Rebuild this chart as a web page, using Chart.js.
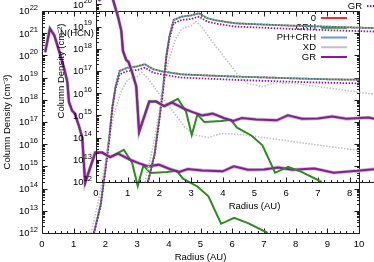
<!DOCTYPE html>
<html>
<head>
<meta charset="utf-8">
<script src="https://cdn.jsdelivr.net/npm/chart.js"></script>
<style>
  html, body { margin: 0; padding: 0; background: #fff; }
  #wrap { position: relative; width: 374px; height: 262px; overflow: hidden; }
  canvas { position: absolute; }
  #main { left: 0; top: 0; }
  #inset { left: 54px; top: -51px; }
</style>
</head>
<body>
<div id="wrap">
  <canvas id="main" width="374" height="262"></canvas>
  <canvas id="inset" width="374" height="262"></canvas>
</div>
<script>
  // radius (AU) and column densities
  const rSolid = [0.1, 0.25, 0.39, 0.55, 0.7, 0.8, 0.85, 0.95, 1.03, 1.16, 1.27, 1.36, 1.68, 1.9, 2.15, 2.4, 2.78, 3.05, 3.35, 3.68,
                  4.03, 4.33, 4.6, 5.05, 5.7, 6.05, 6.5, 7.0, 7.45, 7.9, 8.6, 9.2, 9.95, 10.5];
  const nGR = [1.4e20, 1.6e21, 8e20, 1.4e20, 2.6e19, 6.3e18, 8e17, 3.2e17, 2.5e17, 7e16, 2e16, 1.8e14, 4.2e15, 4.2e15, 2.6e15, 3.8e15, 2e15, 1.4e15, 1e15, 1.2e15,
               7.6e14, 5.6e14, 7.6e14, 6.6e14, 6e14, 1e15, 7e14, 7.2e14, 9e14, 7e14, 8e14, 5.2e14, 6.3e14, 7.6e14];

  const rCRH = [0.1, 0.25, 0.39, 0.55, 0.7, 0.8, 0.85, 0.95, 1.03, 1.16, 1.27, 1.36, 1.68, 1.9, 2.15, 2.58, 2.84, 3.02, 3.2, 3.42,
                3.95, 4.25, 4.45, 4.9, 5.25, 5.65, 6.06, 6.5, 7.12];
  const nCRH = [1.4e20, 1.6e21, 8e20, 1.4e20, 2.6e19, 6.3e18, 8e17, 3.2e17, 2.5e17, 7e16, 2e16, 1.8e14, 4.2e15, 4.2e15, 2.6e15, 5.6e15, 1.5e15, 1.3e14, 1.1e15, 5e14,
                5.6e14, 6.3e14, 2.8e14, 1.25e14, 4.5e13, 2.6e12, 4.8e12, 2.8e12, 1e12];

  const rDot = [1.64, 1.85, 2.0, 2.12, 2.22, 2.32, 2.45, 2.7, 3.0, 3.25, 3.5, 3.8, 4.4, 5.2, 6.2, 7.2, 8.2, 9.2, 10.0, 10.5];
  const nDotPH = [1e12, 2e13, 8e14, 2e16, 5e17, 4e18, 2e19, 2.8e19, 3.2e19, 4e19, 2.4e19, 1.9e19, 1.4e19, 1.25e19, 1.1e19, 1e19, 9e18, 8.3e18, 8e18, 7e18];
  const nDotGR = [1e12, 1.6e13, 6e14, 1.4e16, 4e17, 3e18, 1.4e19, 2e19, 2.2e19, 2.8e19, 1.7e19, 1.35e19, 1e19, 9e18, 7.8e18, 7e18, 6.3e18, 5.8e18, 5.5e18, 5e18];

  const rDotXD = [1.55, 1.8, 2.0, 2.15, 2.3, 2.5, 2.7, 3.0, 3.15, 3.35, 3.6, 3.95, 4.25, 4.5, 4.8, 5.25, 5.65, 6.2, 7.5, 8.75, 10.0, 10.5];
  const nDotXD = [1e12, 4e13, 1.6e15, 3.2e16, 3.2e17, 2.5e18, 8e18, 1.1e19, 1.7e19, 9e18, 2.8e18, 6.3e17, 1.8e17, 6e16, 2.6e16, 2e16, 3e16, 2.8e16, 1.6e16, 9e15, 5.2e15, 4.2e15];

  const xTicks = [0, 1, 2, 3, 4, 5, 6, 7, 8, 9, 10];
  const yTicks = [1e12, 1e13, 1e14, 1e15, 1e16, 1e17, 1e18, 1e19, 1e20, 1e21, 1e22];
  const keyLabels = ['0', 'CRH', 'PH+CRH', 'XD', 'GR'];

  const red = '#ee3030', green = '#2f8a23', blue = '#6a97e6', gray = '#c2c2c2', purple = '#8b1a9b';
  const keyColors = [red, green, blue, gray, purple];
  const FONT = 'Liberation Sans, Arial, sans-serif';

  const pts = (xs, ys) => xs.map((x, i) => ({ x: x, y: ys[i] }));
  const clip = { left: 0, top: 0, right: false, bottom: 0 };

  function line(label, xs, ys, color, width, order, dash, dashOff) {
    return {
      label: label, data: pts(xs, ys), borderColor: color, borderWidth: width,
      pointRadius: 0, fill: false, tension: 0, order: order, clip: clip,
      borderDash: dash || [], borderDashOffset: dashOff || 0
    };
  }

  function makeSets() {
    const d = [1.5, 1.5];
    return [
      line('GR', rSolid, nGR, purple, 2, 0),
      line('CRH', rCRH, nCRH, green, 2, 1),
      line('XD', rSolid, nGR, gray, 3.6, 2),
      line('PH+CRH', rSolid, nGR, blue, 2, 3),
      line('0', rSolid, nGR, red, 2, 4),
      line('GR', rDot, nDotGR, purple, 1.8, 5, d, 0),
      line('XD', rDotXD, nDotXD, gray, 1.6, 6, d, 0),
      line('PH+CRH', rDot, nDotPH, blue, 1.8, 7, d, 0),
      line('CRH', rDot, nDotPH, green, 1.8, 8, d, 1.5),
      line('0', rDot, nDotPH, red, 1.8, 9, d, 0.7)
    ];
  }

  // gnuplot-like border with inward, mirrored tics
  const frame = {
    id: 'frame',
    beforeDatasetsDraw(chart) {
      const { ctx, chartArea: a, scales } = chart;
      const x = scales.x, y = scales.y;
      const L = Math.round(a.left) + 0.5, R = Math.round(a.right) + 0.5;
      const T = Math.round(a.top) + 0.5, B = Math.round(a.bottom) + 0.5;
      ctx.save();
      ctx.strokeStyle = '#1e1e1e';
      ctx.lineWidth = 1;
      ctx.beginPath();
      ctx.rect(L, T, R - L, B - T);
      for (let i = 0; i <= 50; i++) {
        const px = Math.round(x.getPixelForValue(i / 5)) + 0.5;
        const len = i % 5 === 0 ? 5 : 2.5;
        ctx.moveTo(px, B); ctx.lineTo(px, B - len);
        ctx.moveTo(px, T); ctx.lineTo(px, T + len);
      }
      for (let e = 12; e <= 22; e++) {
        for (let k = 1; k < 10; k++) {
          if (e === 22 && k > 1) break;
          const py = Math.round(y.getPixelForValue(k * Math.pow(10, e))) + 0.5;
          const len = k === 1 ? 5 : 2.5;
          ctx.moveTo(L, py); ctx.lineTo(L + len, py);
          ctx.moveTo(R, py); ctx.lineTo(R - len, py);
        }
      }
      ctx.stroke();
      ctx.restore();
    }
  };

  // y tick labels as 10 with a raised exponent
  const powLabels = {
    id: 'powLabels',
    afterDraw(chart) {
      const { ctx } = chart;
      const y = chart.scales.y;
      ctx.save();
      ctx.fillStyle = '#000';
      ctx.textBaseline = 'alphabetic';
      ctx.textAlign = 'left';
      y.ticks.forEach(t => {
        const py = y.getPixelForValue(t.value);
        const e = String(Math.round(Math.log10(t.value)));
        ctx.font = '7.5px ' + FONT;
        const we = ctx.measureText(e).width;
        ctx.font = '9.5px ' + FONT;
        const wb = ctx.measureText('10').width;
        const xr = y.right - 4;
        ctx.fillText('10', xr - we - wb, py + 3.4);
        ctx.font = '7.5px ' + FONT;
        ctx.fillText(e, xr - we, py - 1.2);
      });
      ctx.restore();
    }
  };

  function keyPlugin(dash, shift) {
    return {
      id: 'key',
      afterDatasetsDraw(chart) {
        const { ctx, chartArea: a } = chart;
        ctx.save();
        ctx.font = '9.5px ' + FONT;
        ctx.textAlign = 'right';
        ctx.textBaseline = 'middle';
        keyLabels.forEach((lab, i) => {
          const yy = a.top + 7 + i * 9.75;
          ctx.fillStyle = '#000';
          ctx.fillText(lab, a.right - 43 + shift, yy);
          ctx.strokeStyle = keyColors[i];
          ctx.lineWidth = 2;
          ctx.setLineDash(dash);
          ctx.beginPath();
          ctx.moveTo(a.right - 38 + shift, yy);
          ctx.lineTo(a.right - 12 + shift, yy);
          ctx.stroke();
        });
        ctx.restore();
      }
    };
  }

  const hcnLabel = {
    id: 'hcnLabel',
    afterDraw(chart) {
      const { ctx, chartArea: a } = chart;
      ctx.save();
      ctx.font = '9.5px ' + FONT;
      ctx.fillStyle = '#000';
      ctx.textAlign = 'center';
      ctx.textBaseline = 'middle';
      ctx.fillText('N(HCN)', a.left - 19, a.top + 73);
      ctx.restore();
    }
  };

  function config(yTitle, plugins) {
    return {
      type: 'line',
      data: { datasets: makeSets() },
      options: {
        responsive: false,
        animation: false,
        devicePixelRatio: 1,
        layout: { padding: { top: 11, right: 15, left: 0, bottom: 0 } },
        plugins: { legend: { display: false }, tooltip: { enabled: false } },
        scales: {
          x: {
            type: 'linear', min: 0, max: 10,
            grid: { display: false, drawTicks: false }, border: { display: false },
            afterBuildTicks: s => { s.ticks = xTicks.map(v => ({ value: v })); },
            afterFit: s => { s.height = 29; },
            ticks: { autoSkip: false, maxRotation: 0, padding: 6, color: '#000', font: { family: FONT, size: 9.5 },
                     callback: v => String(v) },
            title: { display: true, text: 'Radius (AU)', color: '#000', padding: { top: -1.5, bottom: -1.5 }, font: { family: FONT, size: 9.5 } }
          },
          y: {
            type: 'logarithmic', min: 1e12, max: 1e22,
            grid: { display: false, drawTicks: false }, border: { display: false },
            afterBuildTicks: s => { s.ticks = yTicks.map(v => ({ value: v })); },
            afterFit: s => { s.width = 42; },
            ticks: { display: false },
            title: { display: true, text: yTitle, color: '#000', padding: { top: 2, bottom: 0 }, font: { family: FONT, size: 9.5 } }
          }
        }
      },
      plugins: plugins
    };
  }

  new Chart(document.getElementById('main'), config('Column Density (cm⁻³)', [frame, powLabels, keyPlugin([], 0)]));
  new Chart(document.getElementById('inset'), config('Column Density (cm⁻²)', [frame, powLabels, keyPlugin([1.5, 1.5], -8), hcnLabel]));
</script>
</body>
</html>
